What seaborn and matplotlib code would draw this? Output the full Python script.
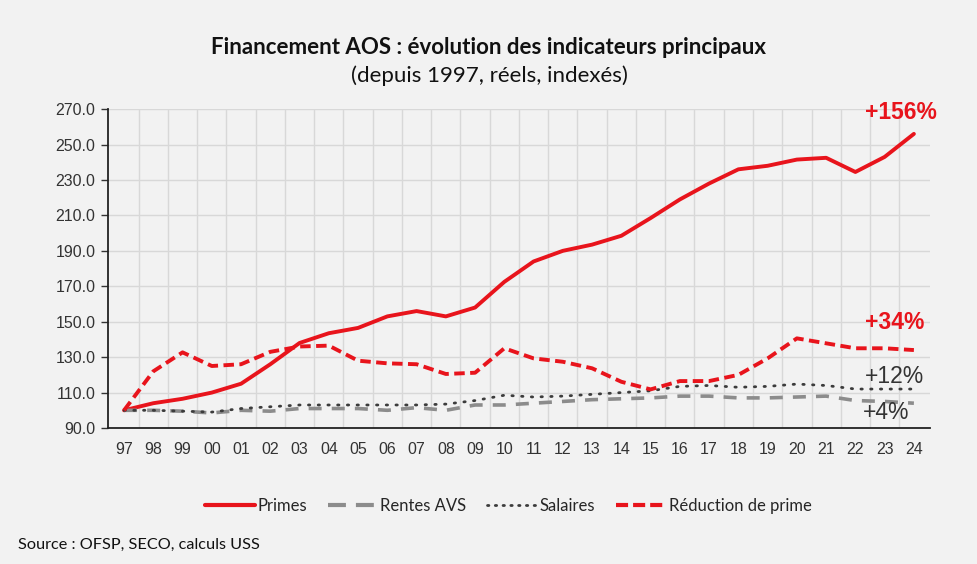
import matplotlib.pyplot as plt
import seaborn as sns
import pandas as pd
from matplotlib.ticker import FixedLocator
from matplotlib.lines import Line2D

# Data (indexed, 1997 = 100)
years = ["97", "98", "99", "00", "01", "02", "03", "04", "05", "06", "07", "08", "09", "10",
         "11", "12", "13", "14", "15", "16", "17", "18", "19", "20", "21", "22", "23", "24"]
primes = [100, 104, 106.5, 110, 115, 126, 138, 143.5, 146.5, 153, 156, 153, 158, 172.5,
          184, 190, 193.5, 198.5, 208.5, 219, 228, 236, 238, 241.5, 242.5, 234.5, 243, 256]
rentes_avs = [100, 100, 99.5, 98.5, 100, 99.5, 101, 101, 101, 100, 101.5, 100, 103, 103,
              104, 105, 106, 106.5, 107, 108, 108, 107, 107, 107.5, 108, 105.5, 105, 104]
salaires = [100, 100, 99.5, 99, 101, 102, 103, 103, 103, 103, 103, 103.5, 105.5, 108.5,
            107.5, 108, 109, 110, 111, 113.5, 114, 113, 113.5, 114.8, 114, 112, 112, 112]
reduction = [100, 122, 132.7, 125, 126, 133, 136, 136.5, 128, 126.5, 126, 120.5, 121.2, 135,
             129.3, 127.4, 123.7, 116.1, 111.8, 116.5, 116.5, 120, 129.3, 140.6, 137.8, 135, 135, 134]
end_labels = ["+156%", "+34%", "+12%", "+4%"]
yticks = [90, 110, 130, 150, 170, 190, 210, 230, 250, 270]

df = pd.DataFrame({"pos": range(len(years)), "Primes": primes, "Rentes AVS": rentes_avs,
                   "Salaires": salaires, "Réduction de prime": reduction})

sns.set_theme(style="white")
plt.rcParams["font.family"] = ["Liberation Sans", "DejaVu Sans"]

RED = "#e8141c"
GREY = "#8c8c8c"
DOT = "#3c3c3c"
BG = "#f2f2f2"
SANS = ["Lato", "DejaVu Sans"]

fig = plt.figure(figsize=(9.78, 5.64), dpi=100, facecolor=BG)
ax = fig.add_axes([0.1104, 0.2411, 0.8405, 0.5655])
ax.set_facecolor(BG)

sns.lineplot(data=df, x="pos", y="Primes", ax=ax, color=RED, lw=2.8)
sns.lineplot(data=df, x="pos", y="Rentes AVS", ax=ax, color=GREY, lw=2.6)
ax.lines[-1].set_dashes([3.6, 2.8])
sns.lineplot(data=df, x="pos", y="Salaires", ax=ax, color=DOT, lw=2.0)
ax.lines[-1].set_dashes([0.5, 3.0])
ax.lines[-1].set_dash_capstyle("round")
sns.lineplot(data=df, x="pos", y="Réduction de prime", ax=ax, color=RED, lw=2.8)
ax.lines[-1].set_dashes([2.7, 1.4])

ax.set_xlim(-0.55, len(years) - 0.45)
ax.set_ylim(90, 270)
ax.set_yticks(yticks)
ax.set_yticklabels([f"{v:.1f}" for v in yticks])
ax.set_xticks(range(len(years)))
ax.set_xticklabels(years)
ax.xaxis.set_minor_locator(FixedLocator([i + 0.5 for i in range(len(years) - 1)]))
ax.grid(True, which="major", axis="y", color="#d8d8d8", lw=1)
ax.grid(True, which="minor", axis="x", color="#d8d8d8", lw=1)
ax.set_axisbelow(True)
ax.tick_params(axis="x", which="both", length=0, labelsize=11.5, colors="#333333", pad=10)
ax.tick_params(axis="y", length=5, width=1, direction="out", labelsize=11.5, colors="#333333",
               pad=4, left=True)
ax.set_xlabel("")
ax.set_ylabel("")
for s in ["top", "right"]:
    ax.spines[s].set_visible(False)
for s in ["left", "bottom"]:
    ax.spines[s].set_color("#222222")
    ax.spines[s].set_linewidth(1.3)

# end annotations
ax.text(26.55, 268.3, end_labels[0], color=RED, fontsize=16.5, fontweight="bold", ha="center", va="center")
ax.text(26.35, 149.8, end_labels[1], color=RED, fontsize=16.5, fontweight="bold", ha="center", va="center")
ax.text(26.35, 119.3, end_labels[2], color="#333333", fontsize=16.5, ha="center", va="center")
ax.text(26.05, 99, end_labels[3], color="#333333", fontsize=16.5, ha="center", va="center")

# legend
handles = [Line2D([], [], color=RED, lw=3),
           Line2D([], [], color=GREY, lw=3, dashes=[4.3, 2.4]),
           Line2D([], [], color=DOT, lw=2, dashes=[0.5, 2.3], dash_capstyle="round"),
           Line2D([], [], color=RED, lw=3, dashes=[2.9, 1.2])]
ax.legend(handles, ["Primes", "Rentes AVS", "Salaires", "Réduction de prime"],
          loc="center", bbox_to_anchor=(0.487, -0.245), ncol=4, frameon=False,
          handlelength=3.0, handletextpad=0.15, columnspacing=1.25,
          prop={"family": SANS, "size": 12})

fig.text(0.5, 0.915, "Financement AOS : évolution des indicateurs principaux",
         ha="center", va="center", fontsize=16, fontweight="bold", family=SANS, color="#111111")
fig.text(0.5, 0.866, "(depuis 1997, réels, indexés)", ha="center", va="center",
         fontsize=16, family=SANS, color="#111111")
fig.text(0.018, 0.034, "Source : OFSP, SECO, calculs USS", ha="left", va="center",
         fontsize=11.7, family=SANS, color="#111111")

fig.savefig("out.png", dpi=100, facecolor=BG)
